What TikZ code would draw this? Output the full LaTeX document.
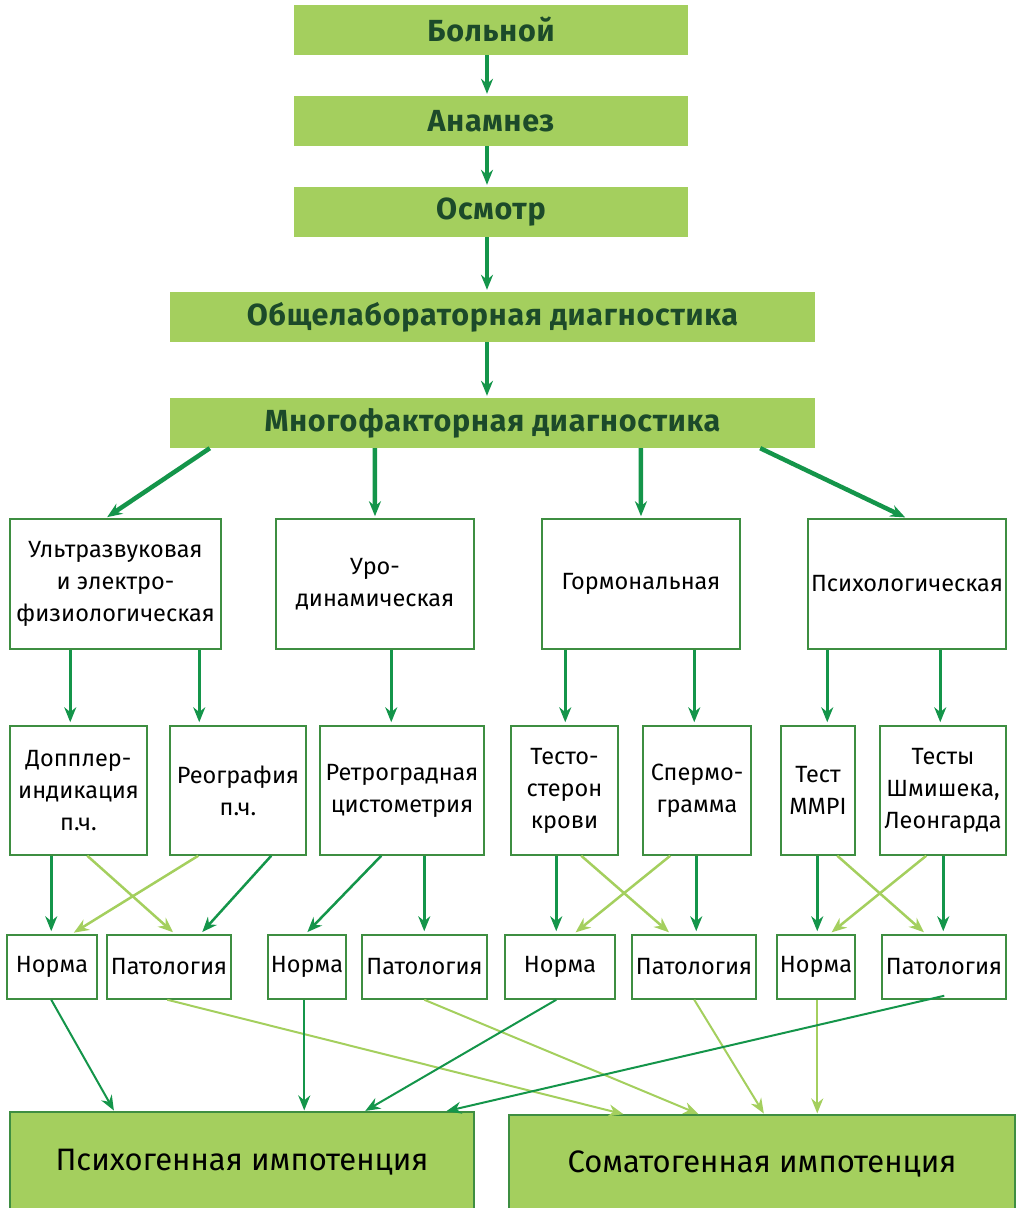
\documentclass[tikz,border=0pt]{standalone}
\usepackage{fontspec}
\setmainfont{Fira Sans}
\newfontfamily\headfont[LetterSpace=2.5]{Fira Sans}
\usetikzlibrary{arrows.meta,calc}
\definecolor{leaf}{HTML}{A4CF5E}
\definecolor{forest}{HTML}{14954A}
\definecolor{rim}{HTML}{3E8E41}
\definecolor{ink}{HTML}{1C4A2A}
\begin{document}
\begin{tikzpicture}[x=1pt, y=-1pt,
    >={Stealth[length=15pt, width=12pt]},
    head/.style={fill=leaf, inner sep=0pt, font=\headfont\bfseries\fontsize{30.5}{34}\selectfont, text=ink},
    box/.style={draw=rim, line width=1.5pt, inner sep=0pt, align=center, font=\fontsize{23.5}{32}\selectfont},
    result/.style={draw=rim, line width=1.2pt, fill=leaf, inner sep=0pt, font=\fontsize{31}{36}\selectfont},
    main/.style={->, draw=forest, line width=4.5pt, shorten >=2pt},
    dark/.style={->, draw=forest, line width=2.5pt, shorten >=3pt},
    pale/.style={->, draw=leaf, line width=2.5pt, shorten >=3pt},
    darkthin/.style={->, draw=forest, line width=2pt, shorten >=1pt},
    palethin/.style={->, draw=leaf, line width=2pt, shorten >=1pt}]
  \useasboundingbox (0,0) rectangle (1018,1208);

  % top chain
  \node[head, minimum width=394, minimum height=50] (bol) at (491,30) {Больной};
  \node[head, minimum width=394, minimum height=50] (anam) at (491,121) {Анамнез};
  \node[head, minimum width=394, minimum height=50] (osm) at (491,212) {Осмотр};
  \node[head, minimum width=645, minimum height=50] (obsh) at (492.5,317) {Общелабораторная диагностика};
  \node[head, minimum width=645, minimum height=50] (mnog) at (492.5,423) {Многофакторная диагностика};

  \draw[main] ([xshift=-4]bol.south) -- ([xshift=-4]anam.north);
  \draw[main] ([xshift=-4]anam.south) -- ([xshift=-4]osm.north);
  \draw[main] ([xshift=-4]osm.south) -- ([xshift=-5.5]obsh.north);
  \draw[main] ([xshift=-5.5]obsh.south) -- ([xshift=-5.5]mnog.north);

  % kinds of diagnostics
  \node[box, minimum width=211, minimum height=130] (uzi) at (115.5,584) {Ультразвуковая\\и электро-\\физиологическая};
  \node[box, minimum width=198, minimum height=130] (uro) at (375,584) {Уро-\\динамическая};
  \node[box, minimum width=198, minimum height=130] (gorm) at (641,584) {Гормональная};
  \node[box, minimum width=198, minimum height=130] (psih) at (907,584) {Психологическая};

  \draw[main] ([xshift=40]mnog.south west) -- ([xshift=-10]uzi.north);
  \draw[main] ([xshift=205]mnog.south west) -- (uro.north);
  \draw[main] ([xshift=471]mnog.south west) -- (gorm.north);
  \draw[main] ([xshift=-55]mnog.south east) -- (psih.north);

  % methods
  \node[box, minimum width=137, minimum height=129] (dop) at (78.5,790.5) {Допплер-\\индикация\\п.ч.};
  \node[box, minimum width=136, minimum height=129] (reo) at (238,790.5) {Реография\\п.ч.};
  \node[box, minimum width=164, minimum height=129] (retro) at (402,790.5) {Ретроградная\\цистометрия};
  \node[box, minimum width=107, minimum height=129] (test) at (564.5,790.5) {Тесто-\\стерон\\крови};
  \node[box, minimum width=108, minimum height=129] (sperm) at (697,790.5) {Спермо-\\грамма};
  \node[box, minimum width=74, minimum height=129] (mmpi) at (818,790.5) {Тест\\MMPI};
  \node[box, minimum width=126, minimum height=129] (shm) at (943,790.5) {Тесты\\Шмишека,\\Леонгарда};

  \draw[dark] ([xshift=61]uzi.south west) coordinate (a) -- (a |- dop.north);
  \draw[dark] ([xshift=190]uzi.south west) coordinate (a) -- (a |- reo.north);
  \draw[dark] ([xshift=116]uro.south west) coordinate (a) -- (a |- retro.north);
  \draw[dark] ([xshift=24]gorm.south west) coordinate (a) -- (a |- test.north);
  \draw[dark] ([xshift=153]gorm.south west) coordinate (a) -- (a |- sperm.north);
  \draw[dark] ([xshift=20]psih.south west) coordinate (a) -- (a |- mmpi.north);
  \draw[dark] ([xshift=133]psih.south west) coordinate (a) -- (a |- shm.north);

  % results
  \node[box, minimum width=90, minimum height=64] (n1) at (52,967) {Норма};
  \node[box, minimum width=124, minimum height=64] (p1) at (169,967) {Патология};
  \node[box, minimum width=78, minimum height=64] (n2) at (307,967) {Норма};
  \node[box, minimum width=125, minimum height=64] (p2) at (424.5,967) {Патология};
  \node[box, minimum width=110, minimum height=64] (n3) at (560,967) {Норма};
  \node[box, minimum width=124, minimum height=64] (p3) at (694,967) {Патология};
  \node[box, minimum width=78, minimum height=64] (n4) at (816,967) {Норма};
  \node[box, minimum width=124, minimum height=64] (p4) at (944,967) {Патология};

  \draw[dark] ([xshift=42]dop.south west) coordinate (a) -- (a |- n1.north);
  \draw[pale] ([xshift=78]dop.south west) -- ([xshift=69]p1.north west);
  \draw[pale] ([xshift=29]reo.south west) -- ([xshift=65]n1.north west);
  \draw[dark] ([xshift=102]reo.south west) -- ([xshift=94]p1.north west);
  \draw[dark] ([xshift=62]retro.south west) -- ([xshift=38]n2.north west);
  \draw[dark] ([xshift=105]retro.south west) coordinate (a) -- (a |- p2.north);
  \draw[dark] ([xshift=46]test.south west) coordinate (a) -- (a |- n3.north);
  \draw[pale] ([xshift=71]test.south west) -- ([xshift=40]p3.north west);
  \draw[pale] ([xshift=28]sperm.south west) -- ([xshift=69]n3.north west);
  \draw[dark] ([xshift=54]sperm.south west) coordinate (a) -- (a |- p3.north);
  \draw[dark] ([xshift=37]mmpi.south west) coordinate (a) -- (a |- n4.north);
  \draw[pale] ([xshift=57]mmpi.south west) -- ([xshift=45]p4.north west);
  \draw[pale] ([xshift=47]shm.south west) -- ([xshift=53]n4.north west);
  \draw[dark] ([xshift=64]shm.south west) coordinate (a) -- (a |- p4.north);

  % conclusions
  \node[result, minimum width=464, minimum height=100] (psy) at (242,1162) {Психогенная импотенция};
  \node[result, minimum width=506, minimum height=97] (som) at (762,1163.5) {Соматогенная импотенция};

  \draw[darkthin] ([xshift=45]n1.south west) -- ([xshift=105]psy.north west);
  \draw[palethin] ([xshift=61]p1.south west) -- ([xshift=116]som.north west);
  \draw[darkthin] ([xshift=37]n2.south west) coordinate (a) -- (a |- psy.north);
  \draw[palethin] ([xshift=63]p2.south west) -- ([xshift=191]som.north west);
  \draw[darkthin] ([xshift=52]n3.south west) -- ([xshift=355]psy.north west);
  \draw[palethin] ([xshift=63]p3.south west) -- ([xshift=256]som.north west);
  \draw[palethin] ([xshift=41]n4.south west) coordinate (a) -- (a |- som.north);
  \draw[darkthin] ([xshift=63,yshift=4]p4.south west) -- ([xshift=436]psy.north west);
\end{tikzpicture}
\end{document}
